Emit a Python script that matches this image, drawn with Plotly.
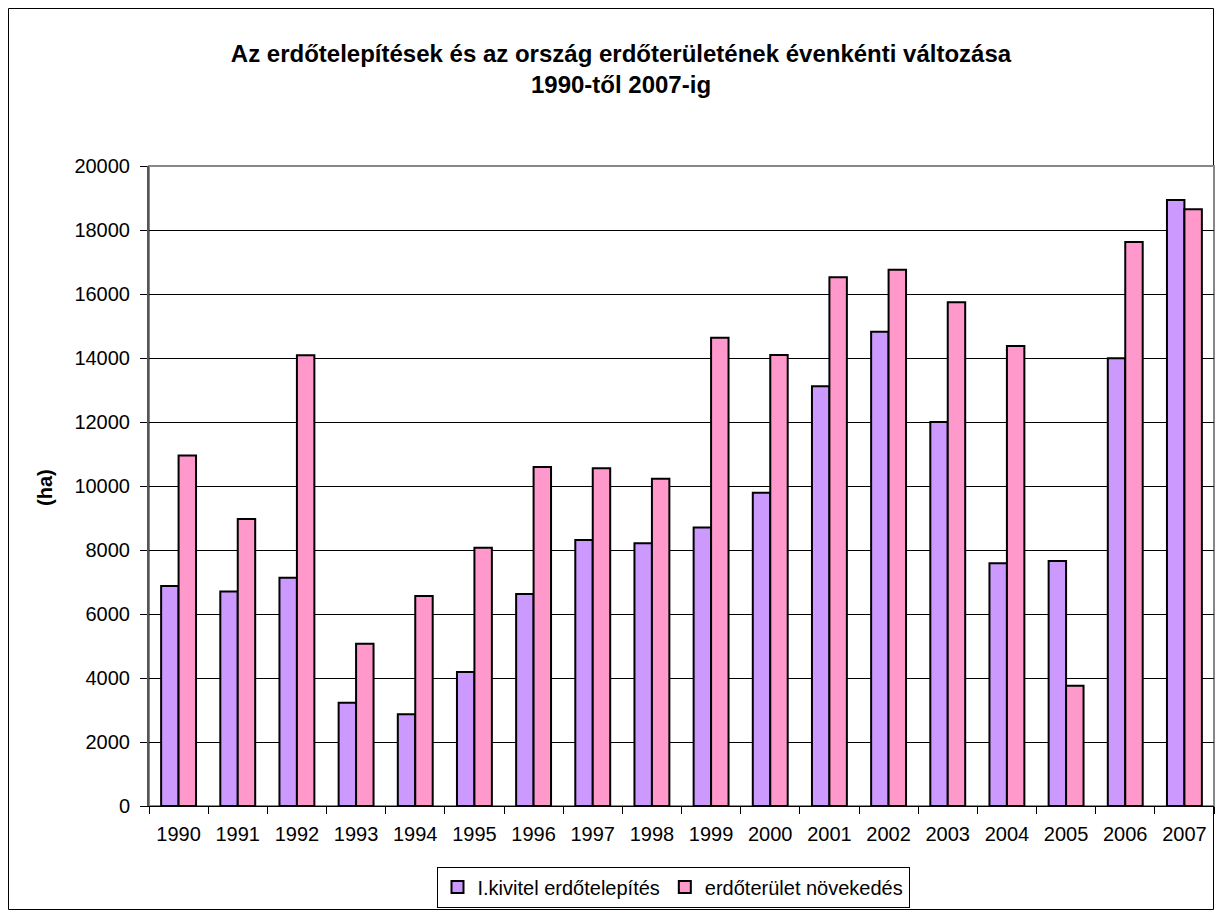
import plotly.graph_objects as go

years = ["1990", "1991", "1992", "1993", "1994", "1995", "1996", "1997", "1998",
         "1999", "2000", "2001", "2002", "2003", "2004", "2005", "2006", "2007"]
kivitel = [6875, 6700, 7135, 3230, 2865, 4190, 6625, 8310, 8210,
           8700, 9790, 13115, 14820, 12000, 7585, 7655, 13990, 18935]
novekedes = [10950, 8970, 14085, 5070, 6560, 8070, 10595, 10555, 10230,
             14635, 14095, 16520, 16760, 15740, 14375, 3760, 17625, 18645]
y_ticks = [0, 2000, 4000, 6000, 8000, 10000, 12000, 14000, 16000, 18000, 20000]

# page body has an 8px margin; work in reference-pixel coordinates and shift
O = 8
W, H = 1224 - O, 918 - O
L, T = 149 - O, 166 - O
R = W - (1214 - O)
B = H - (806 - O)
pw, ph = W - L - R, H - T - B

font = "Liberation Sans, Arial, sans-serif"

fig = go.Figure()
fig.add_trace(go.Bar(x=years, y=kivitel, name="I.kivitel erdőtelepítés",
                     marker=dict(color="#CC99FF", line=dict(color="#000000", width=2))))
fig.add_trace(go.Bar(x=years, y=novekedes, name="erdőterület növekedés",
                     marker=dict(color="#FF99CC", line=dict(color="#000000", width=2))))

def px2x(p):
    return (p - O - L) / pw

def px2y(p):
    return (H - B - (p - O)) / ph

fig.update_layout(
    width=W, height=H,
    margin=dict(l=L, r=R, t=T, b=B, autoexpand=False),
    paper_bgcolor="white", plot_bgcolor="white",
    barmode="group", bargap=0.41, bargroupgap=0,
    font=dict(family=font, size=20, color="black"),
    title=dict(text="<b>Az erdőtelepítések és az ország erdőterületének évenkénti változása<br>1990-től 2007-ig</b>",
               x=(621 - O) / W, xanchor="center", xref="container",
               y=1 - (62 - O) / H, yanchor="top", yref="container",
               font=dict(family=font, size=24, color="black")),
    xaxis=dict(type="category", showgrid=False, showline=True, linecolor="#000000", linewidth=1,
               ticks="outside", tickson="boundaries", ticklen=7, tickcolor="#000000",
               tickfont=dict(size=20), ticklabelstandoff=10, automargin=False),
    yaxis=dict(range=[0, 20000], tickvals=y_ticks, ticktext=[str(v) for v in y_ticks],
               showgrid=True, gridcolor="#000000", gridwidth=1,
               showline=True, linecolor="#555555", linewidth=2,
               ticks="outside", ticklen=7, tickcolor="#000000",
               tickfont=dict(size=20), zeroline=False, ticklabelstandoff=6, automargin=False),
    legend=dict(orientation="h", x=px2x(673), xanchor="center", y=px2y(887), yanchor="middle",
                bordercolor="#000000", borderwidth=1, font=dict(size=20),
                itemwidth=30, tracegroupgap=0),
    showlegend=True,
    annotations=[dict(text="<b>(ha)</b>", x=px2x(45), y=px2y(488), xref="paper", yref="paper",
                      xanchor="center", yanchor="middle",
                      textangle=-90, showarrow=False, font=dict(size=20, family=font))],
    shapes=[
        dict(type="rect", xref="paper", yref="paper", x0=px2x(8.5), x1=px2x(1213.5),
             y0=px2y(909.5), y1=px2y(8.5),
             line=dict(color="#000000", width=1), layer="below"),
        dict(type="rect", xref="paper", yref="paper", x0=0, x1=1, y0=0, y1=1,
             line=dict(color="#888888", width=2), layer="below"),
    ],
)

fig.write_html("out.html")
